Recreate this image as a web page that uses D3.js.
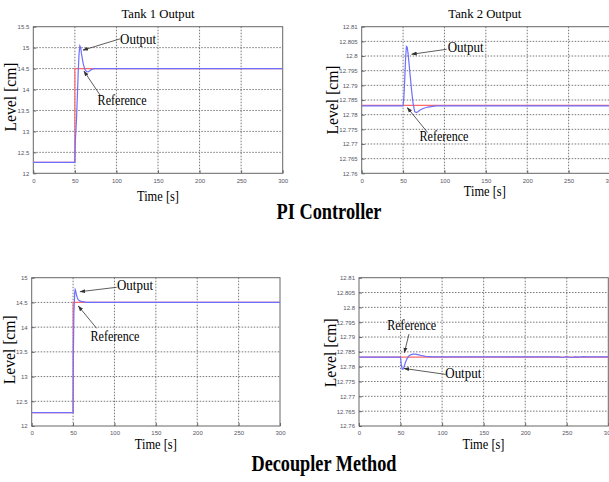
<!DOCTYPE html>
<html>
<head>
<meta charset="utf-8">
<script src="https://cdn.jsdelivr.net/npm/d3@7"></script>
<style>
  body { margin: 0; background: #fff; }
  svg { display: block; }
</style>
</head>
<body>
<svg id="chart" width="609" height="482"></svg>
<script>
// ---- data ----
const xTicks = [0, 50, 100, 150, 200, 250, 300];
const tank1Ticks = [12, 12.5, 13, 13.5, 14, 14.5, 15, 15.5];
const tank1DecTicks = [12, 12.5, 13, 13.5, 14, 14.5, 15];
const tank2Ticks = [12.76, 12.765, 12.77, 12.775, 12.78, 12.785, 12.79, 12.795, 12.8, 12.805, 12.81];

const piT1Time = [0, 50, 50.5, 52, 54, 55, 56, 57, 58, 60, 62, 64, 66, 68, 70, 74, 80, 300];
const piT1Out  = [12.26, 12.26, 12.75, 13.3, 14.4, 14.85, 15.04, 15.0, 14.85, 14.62, 14.48, 14.43, 14.42, 14.45, 14.48, 14.5, 14.5, 14.5];
const piT1RefTime = [0, 50, 50, 300];
const piT1Ref     = [12.26, 12.26, 14.5, 14.5];

const piT2Time = [0, 50, 51, 52, 53, 54, 55, 56, 58, 60, 62, 64, 66, 68, 70, 75, 80, 90, 100, 300];
const piT2Out  = [12.783, 12.783, 12.786, 12.792, 12.799, 12.8033, 12.803, 12.801, 12.795, 12.789, 12.784, 12.781, 12.7807, 12.781, 12.7815, 12.7822, 12.7826, 12.783, 12.783, 12.783];
const piT2RefTime = [0, 300];
const piT2Ref     = [12.7832, 12.7832];

const decT1Time = [0, 50, 50.3, 51, 52, 52.5, 53, 54, 55, 56, 58, 60, 63, 66, 70, 300];
const decT1Out  = [12.27, 12.27, 13.4, 14.3, 14.7, 14.76, 14.74, 14.66, 14.6, 14.56, 14.53, 14.52, 14.51, 14.5, 14.5, 14.5];
const decT1RefTime = [0, 50, 50, 300];
const decT1Ref     = [12.27, 12.27, 14.5, 14.5];

const decT2Time = [0, 50, 51, 52, 53, 54, 56, 58, 60, 62, 65, 68, 72, 76, 80, 85, 90, 100, 240, 245, 250, 255, 260, 265, 270, 275, 300];
const decT2Out  = [12.7832, 12.7832, 12.7805, 12.7792, 12.7792, 12.7798, 12.7815, 12.7828, 12.7836, 12.784, 12.7842, 12.7842, 12.784, 12.7837, 12.7835, 12.7834, 12.7833, 12.7833, 12.7833, 12.7831, 12.7834, 12.7831, 12.7833, 12.7832, 12.7834, 12.7833, 12.7833];
const decT2RefTime = [0, 300];
const decT2Ref     = [12.7832, 12.7832];

// annotations in data units: [text, textT, textV, fromT, fromV, toT, toV]
const piT1Notes  = [["Output", 126, 15.16, 104.3, 15.21, 59.8, 14.94], ["Reference", 106.8, 13.70, 80.2, 13.87, 61, 14.44]];
const piT2Notes  = [["Output", 125.6, 12.8024, 102.7, 12.8023, 60.4, 12.8006], ["Reference", 99.4, 12.7720, 79.7, 12.7739, 55.1, 12.7824]];
const decT1Notes = [["Output", 124.8, 14.818, 102.7, 14.806, 58.4, 14.717], ["Reference", 100.6, 13.794, 78.5, 13.976, 56.3, 14.427]];
const decT2Notes = [["Reference", 63.4, 12.7935, 60.2, 12.791, 54.5, 12.7847], ["Output", 125.5, 12.7772, 104.3, 12.7774, 54.2, 12.7794]];

// ---- layout ----
const svg = d3.select("#chart");
const BLUE = "#6f6fff", RED = "#ff6868";
const SERIF = "'Liberation Serif', 'Times New Roman', serif";

svg.append("defs").append("marker")
    .attr("id", "arrow")
    .attr("viewBox", "0 0 10 10")
    .attr("refX", 9).attr("refY", 5)
    .attr("markerWidth", 7).attr("markerHeight", 7)
    .attr("orient", "auto-start-reverse")
    .append("path")
    .attr("d", "M0,1.5 L10,5 L0,8.5 Z")
    .attr("fill", "#333");

const panels = [
    { left: 33.3, right: 282.7, top: 26.7, bottom: 173.3, yDomain: [12, 15.5], yTicks: tank1Ticks,
      title: "Tank 1 Output", titleY: 15, labelDx: 21, labelDy: -3, timeDy: 24,
      time: piT1Time, out: piT1Out, refTime: piT1RefTime, ref: piT1Ref, notes: piT1Notes },
    { left: 361.7, right: 610, top: 26.7, bottom: 173.3, yDomain: [12.76, 12.81], yTicks: tank2Ticks,
      title: "Tank 2 Output", titleY: 15, labelDx: 27, labelDy: 0, timeDy: 19.5,
      time: piT2Time, out: piT2Out, refTime: piT2RefTime, ref: piT2Ref, notes: piT2Notes },
    { left: 31.7, right: 280, top: 277.7, bottom: 426, yDomain: [12, 15], yTicks: tank1DecTicks,
      title: null, labelDx: 20, labelDy: -2, timeDy: 19.5,
      time: decT1Time, out: decT1Out, refTime: decT1RefTime, ref: decT1Ref, notes: decT1Notes },
    { left: 359, right: 608.3, top: 277.7, bottom: 426, yDomain: [12.76, 12.81], yTicks: tank2Ticks,
      title: null, labelDx: 27, labelDy: 1, timeDy: 19.5,
      time: decT2Time, out: decT2Out, refTime: decT2RefTime, ref: decT2Ref, notes: decT2Notes }
];

panels.forEach(p => {
    const x = d3.scaleLinear().domain([0, 300]).range([p.left, p.right]);
    const y = d3.scaleLinear().domain(p.yDomain).range([p.bottom, p.top]);
    const g = svg.append("g");

    // dotted grid
    g.append("g").selectAll("line").data(xTicks.slice(1, -1)).join("line")
        .attr("x1", d => x(d)).attr("x2", d => x(d))
        .attr("y1", p.top).attr("y2", p.bottom);
    g.append("g").selectAll("line").data(p.yTicks.slice(1, -1)).join("line")
        .attr("x1", p.left).attr("x2", p.right)
        .attr("y1", d => y(d)).attr("y2", d => y(d));
    g.selectAll("line")
        .attr("stroke", "#555")
        .attr("stroke-width", 0.8)
        .attr("stroke-dasharray", "1.5,1.5");

    // frame
    g.append("rect")
        .attr("x", p.left).attr("y", p.top)
        .attr("width", p.right - p.left).attr("height", p.bottom - p.top)
        .attr("fill", "none").attr("stroke", "#666").attr("stroke-width", 1);

    // axes (inward ticks, MATLAB style)
    const xAxis = g.append("g")
        .attr("transform", `translate(0,${p.bottom})`)
        .call(d3.axisBottom(x).tickValues(xTicks).tickSize(-3).tickPadding(5).tickFormat(d3.format("d")));
    const yAxis = g.append("g")
        .attr("transform", `translate(${p.left},0)`)
        .call(d3.axisLeft(y).tickValues(p.yTicks).tickSize(-3).tickPadding(4).tickFormat(d => +d.toFixed(3)));
    [xAxis, yAxis].forEach(a => {
        a.select(".domain").remove();
        a.selectAll("line").attr("stroke", "#666");
        a.selectAll("text")
            .attr("font-family", "'Liberation Sans', Arial, sans-serif")
            .attr("font-size", 6)
            .attr("fill", "#556");
    });

    // series
    const line = d3.line().x(d => x(d[0])).y(d => y(d[1]));
    g.append("path")
        .datum(d3.zip(p.refTime, p.ref))
        .attr("d", line).attr("fill", "none")
        .attr("stroke", RED).attr("stroke-width", 1.2);
    g.append("path")
        .datum(d3.zip(p.time, p.out))
        .attr("d", line).attr("fill", "none")
        .attr("stroke", BLUE).attr("stroke-width", 1.2);

    // annotations
    p.notes.forEach(n => {
        g.append("line")
            .attr("x1", x(n[3])).attr("y1", y(n[4]))
            .attr("x2", x(n[5])).attr("y2", y(n[6]))
            .attr("stroke", "#333").attr("stroke-width", 0.8)
            .attr("marker-end", "url(#arrow)");
        g.append("text")
            .attr("x", x(n[1])).attr("y", y(n[2]))
            .attr("text-anchor", "middle").attr("dominant-baseline", "middle")
            .attr("font-family", SERIF).attr("font-size", 14)
            .attr("textLength", n[0] === "Output" ? 36 : 49)
            .attr("lengthAdjust", "spacingAndGlyphs")
            .text(n[0]);
    });

    // labels
    const cy = (p.top + p.bottom) / 2 + p.labelDy;
    g.append("text")
        .attr("transform", `translate(${p.left - p.labelDx},${cy}) rotate(-90)`)
        .attr("text-anchor", "middle").attr("dominant-baseline", "middle")
        .attr("font-family", SERIF).attr("font-size", 16)
        .attr("textLength", 69).attr("lengthAdjust", "spacingAndGlyphs")
        .text("Level [cm]");
    g.append("text")
        .attr("x", (p.left + Math.min(p.right, 608)) / 2).attr("y", p.bottom + p.timeDy)
        .attr("text-anchor", "middle").attr("dominant-baseline", "middle")
        .attr("font-family", SERIF).attr("font-size", 15)
        .attr("textLength", 42).attr("lengthAdjust", "spacingAndGlyphs")
        .text("Time [s]");
    if (p.title) {
        g.append("text")
            .attr("x", (p.left + Math.min(p.right, 608)) / 2).attr("y", p.titleY)
            .attr("text-anchor", "middle").attr("dominant-baseline", "middle")
            .attr("font-family", SERIF).attr("font-size", 13)
            .attr("textLength", 73).attr("lengthAdjust", "spacingAndGlyphs")
            .text(p.title);
    }
});

// section captions
[["PI Controller", 329, 214, 105], ["Decoupler Method", 324, 466, 145]].forEach(c => {
    svg.append("text")
        .attr("x", c[1]).attr("y", c[2])
        .attr("text-anchor", "middle").attr("dominant-baseline", "middle")
        .attr("font-family", SERIF).attr("font-size", 23).attr("font-weight", "bold")
        .attr("textLength", c[3]).attr("lengthAdjust", "spacingAndGlyphs")
        .text(c[0]);
});
</script>
</body>
</html>
